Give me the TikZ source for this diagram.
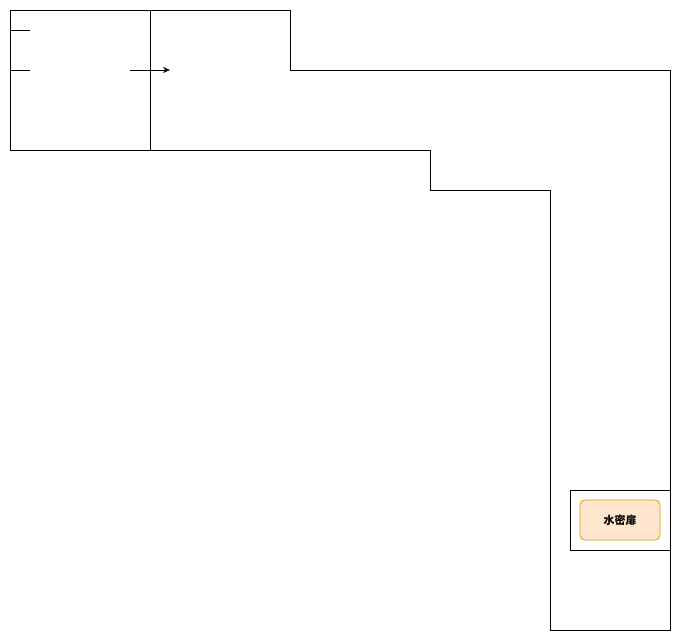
\documentclass[tikz,border=0pt]{standalone}
\usepackage{fontspec}
\usetikzlibrary{arrows.meta}
\newfontfamily\cjk{Noto Sans CJK SC}
\definecolor{fillO}{HTML}{FFE6CC}
\definecolor{drawO}{HTML}{D79B00}
\begin{document}
\begin{tikzpicture}[x=1pt,y=-1pt,line width=0.8pt,
  door/.style={draw=drawO,fill=fillO,rounded corners=5pt,minimum width=80pt,minimum height=40pt,inner sep=0pt,font=\cjk\bfseries\fontsize{11}{13}\selectfont}]
\useasboundingbox (0,0) rectangle (681,641);
\draw (10,10) rectangle (150,150);
\draw (150,150) -- (150,10) -- (290,10) -- (290,70) -- (670,70) -- (670,630) -- (550,630) -- (550,190) -- (430,190) -- (430,150) -- (150,150);
\coordinate (s1a) at (10,30); \coordinate (s1b) at (30,30);
\coordinate (s2a) at (10,70); \coordinate (s2b) at (30,70);
\coordinate (ar1) at (130,70); \coordinate (ar2) at (170,70);
\draw (s1a) -- (s1b);
\draw (s2a) -- (s2b);
\draw[-{Stealth[length=7pt,width=6pt]}] (ar1) -- (ar2);
\draw (570,490) rectangle (670,550);
\node[door] (wd) at (620,520) {水密扉};
\end{tikzpicture}
\end{document}
